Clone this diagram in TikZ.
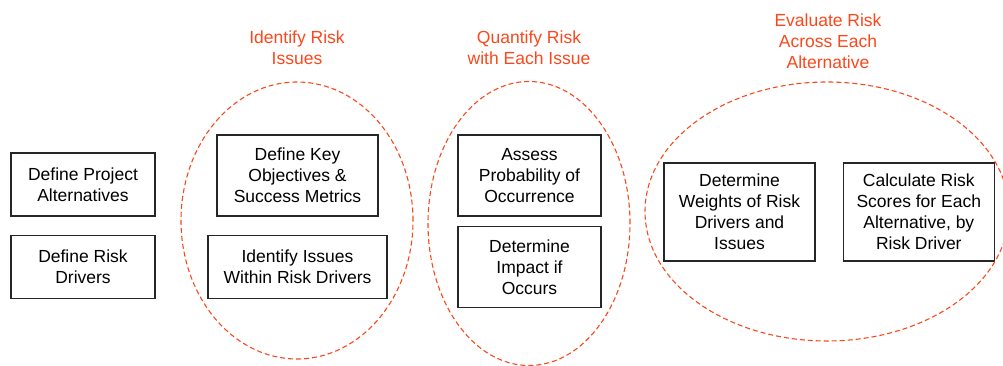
\documentclass[tikz,border=0pt]{standalone}
\usepackage{fontspec}
\setmainfont{Liberation Sans}
\usetikzlibrary{positioning}

\definecolor{riskorange}{RGB}{250,72,28}

\tikzset{
  stepbox/.style={draw=black!85, line width=1.3pt, align=center, inner sep=0pt,
                  font=\fontsize{17.5}{21}\selectfont},
  ring/.style={draw=riskorange, dash pattern=on 5pt off 3pt, line width=1.1pt},
  phase/.style={text=riskorange, align=center, font=\fontsize{17.5}{21}\selectfont}
}

\begin{document}
\begin{tikzpicture}[x=1pt,y=1pt]
\clip (0,0) rectangle (1003,366);

% inputs
\node[stepbox, minimum width=144pt, minimum height=63pt] (alts) at (83,181.5)
     {Define Project\\Alternatives};
\node[stepbox, minimum width=144pt, minimum height=63pt, below=18pt of alts] (drivers)
     {Define Risk\\Drivers};

% identify
\node[stepbox, minimum width=161pt, minimum height=81pt] (objectives) at (297.5,190.5)
     {Define Key\\Objectives \&\\Success Metrics};
\node[stepbox, minimum width=179pt, minimum height=63pt, below=18pt of objectives] (issues)
     {Identify Issues\\Within Risk Drivers};
\draw[ring] (297,145.5) ellipse [x radius=116, y radius=138.5];
\node[phase] (identify) at (297,318) {Identify Risk\\Issues};

% quantify
\node[stepbox, minimum width=143pt, minimum height=81pt] (probability) at (529.5,190.5)
     {Assess\\Probability of\\Occurrence};
\node[stepbox, minimum width=143pt, minimum height=81pt, below=9pt of probability] (impact)
     {Determine\\Impact if\\Occurs};
\draw[ring] (529,142.5) ellipse [x radius=101, y radius=142];
\node[phase] (quantify) at (529,318) {Quantify Risk\\with Each Issue};

% evaluate
\node[stepbox, minimum width=151pt, minimum height=98pt] (weights) at (739.5,154)
     {Determine\\Weights of Risk\\Drivers and\\Issues};
\node[stepbox, minimum width=151pt, minimum height=98pt, right=27pt of weights] (scores)
     {Calculate Risk\\Scores for Each\\Alternative, by\\Risk Driver};
\draw[ring] (827,154.5) ellipse [x radius=182, y radius=129.5];
\node[phase] (evaluate) at (828,325) {Evaluate Risk\\Across Each\\Alternative};
\end{tikzpicture}
\end{document}
